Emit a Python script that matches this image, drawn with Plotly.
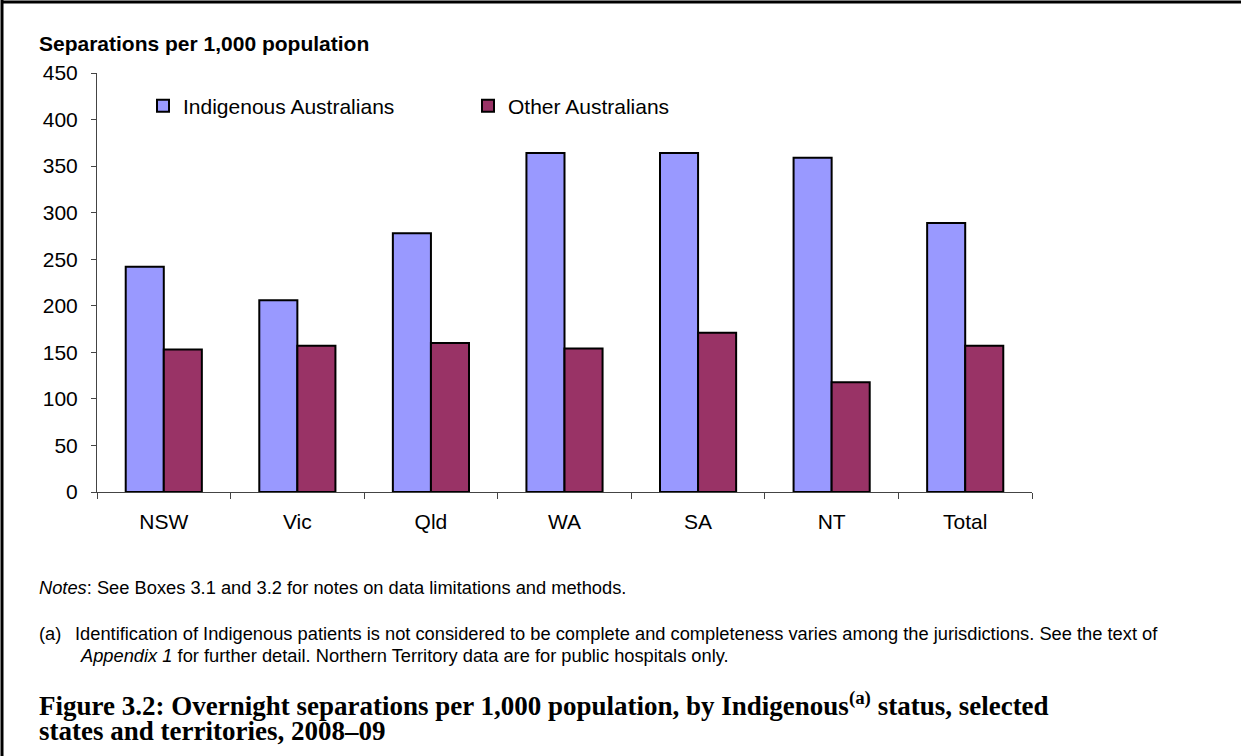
import plotly.graph_objects as go

# Données
states = ['NSW', 'Vic', 'Qld', 'WA', 'SA', 'NT', 'Total']
indigenous = [242, 206, 278, 364, 364, 359, 289]
other = [153, 157, 160, 154, 171, 118, 157]

W, H = 1242, 756
L, R, T, B = 97, 210, 73, 264
PW, PH = W - L - R, H - T - B


def px(x):
    return (x - L) / PW


def py(y):
    return (H - B - y) / PH


fig = go.Figure()
fig.add_trace(go.Bar(
    x=states, y=indigenous, name='Indigenous Australians',
    marker=dict(color='#9999FF', line=dict(color='black', width=2))
))
fig.add_trace(go.Bar(
    x=states, y=other, name='Other Australians',
    marker=dict(color='#993366', line=dict(color='black', width=2))
))

font = 'Liberation Sans, Arial, sans-serif'
serif = 'Liberation Serif, Times New Roman, serif'

fig.update_layout(
    width=W, height=H,
    margin=dict(l=L, r=R, t=T, b=B, autoexpand=False),
    paper_bgcolor='white', plot_bgcolor='white',
    barmode='group', bargap=0.43, bargroupgap=0,
    font=dict(family=font, size=21, color='black'),
    showlegend=True,
    legend=dict(orientation='h', x=px(143), y=py(106), xanchor='left', yanchor='middle',
                entrywidth=280, entrywidthmode='pixels',
                font=dict(size=21), bgcolor='rgba(0,0,0,0)', traceorder='normal'),
    xaxis=dict(showline=True, linecolor='#444', linewidth=1, ticks='outside',
               tickson='boundaries', ticklen=6, tickcolor='#444',
               ticklabelstandoff=11, showgrid=False),
    yaxis=dict(range=[0, 450], dtick=50, showline=True, linecolor='#444', linewidth=1,
               ticks='outside', ticklen=5, tickcolor='#444', showgrid=False,
               zeroline=False, ticklabelstandoff=9),
)

notes = [
    (37, 43, '<b>Separations per 1,000 population</b>', font, 21),
    (37, 587, '<i>Notes</i>: See Boxes 3.1 and 3.2 for notes on data limitations and methods.', font, 18.3),
    (37, 633, '(a)', font, 18.3),
    (73, 633, 'Identification of Indigenous patients is not considered to be complete and completeness varies among the jurisdictions. See the text of', font, 18.3),
    (78, 655, '<i>Appendix 1</i> for further detail. Northern Territory data are for public hospitals only.', font, 18.3),
    (37, 704, '<b>Figure 3.2: Overnight separations per 1,000 population, by Indigenous<sup>(a)</sup> status, selected</b>', serif, 27),
    (37, 731, '<b>states and territories, 2008\u201309</b>', serif, 27),
]
for x, y, text, fam, size in notes:
    fig.add_annotation(x=px(x), y=py(y), xref='paper', yref='paper', text=text,
                       showarrow=False, xanchor='left', yanchor='middle',
                       font=dict(family=fam, size=size, color='black'))

# Cadre (haut et gauche)
fig.add_shape(type='line', xref='paper', yref='paper', x0=px(2), x1=px(1241), y0=py(2), y1=py(2),
              line=dict(color='black', width=3))
fig.add_shape(type='line', xref='paper', yref='paper', x0=px(2), x1=px(2), y0=py(0), y1=py(756),
              line=dict(color='black', width=3))

fig.write_html('out.html', config={'displayModeBar': False},
               post_script="document.documentElement.style.overflow='hidden';"
                           "document.body.style.margin='0';document.body.style.overflow='hidden';")
